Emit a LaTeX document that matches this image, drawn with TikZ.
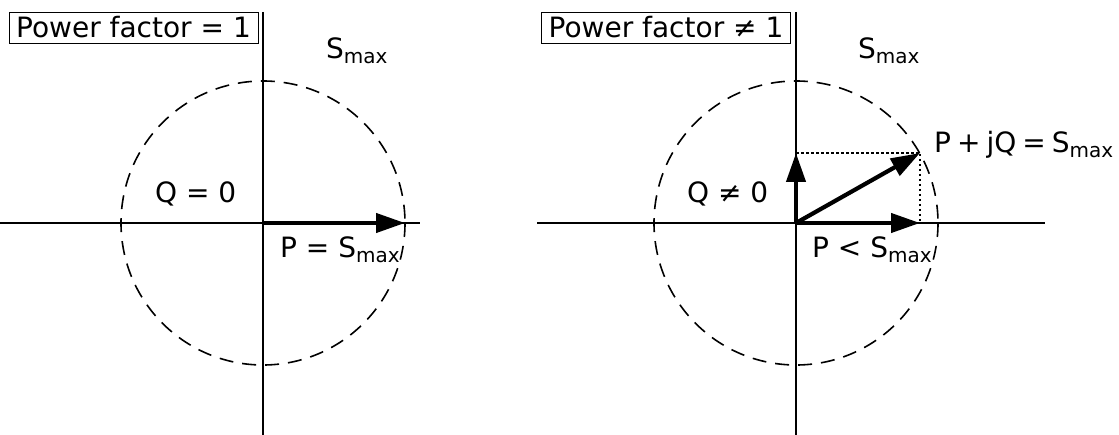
\documentclass[tikz,border=0pt]{standalone}
\usepackage{fontspec}
\setmainfont{DejaVu Sans}
\usetikzlibrary{arrows.meta}
\newcommand{\Smx}{S\raisebox{-5pt}{\fontsize{20}{22}\selectfont max}}
\begin{document}
\begin{tikzpicture}[x=1pt,y=-1pt,
  font=\fontsize{28}{32}\selectfont,
  axis/.style={line width=1.8pt},
  circ/.style={dash pattern=on 14pt off 9pt, line width=1.6pt},
  vec/.style={line width=4.2pt, -{Triangle[length=29pt,width=19pt]}},
  proj/.style={dash pattern=on 2.5pt off 2.5pt, line width=1.4pt},
  lbl/.style={inner sep=0pt, anchor=base west},
  pfbox/.style={draw, line width=0.9pt, minimum width=249pt, minimum height=31pt, inner sep=0pt}]
\useasboundingbox (0,0) rectangle (1119,435);

% ---------- left diagram ----------
\coordinate (O1) at (263,223);
\coordinate (L1t) at (263,12);
\coordinate (L1b) at (263,435);
\coordinate (L1l) at (0,223);
\coordinate (L1r) at (420,223);
\coordinate (P1) at (405,223);
\draw[axis] (L1t) -- (L1b);
\draw[axis] (L1l) -- (L1r);
\draw[circ] (O1) circle[radius=142];
\draw[vec] (O1) -- (P1);
\node[pfbox] (box1) at (133.5,27.5) {Power factor = 1};
\node[lbl] (s1) at (326,59) {\Smx};
\node[lbl] (q1) at (155,203) {Q = 0};
\node[lbl] (p1) at (280,258) {P = \Smx};

% ---------- right diagram ----------
\coordinate (O2) at (796,223);
\coordinate (L2t) at (796,12);
\coordinate (L2b) at (796,435);
\coordinate (L2l) at (537,223);
\coordinate (L2r) at (1045,223);
\coordinate (T) at (920,153);
\coordinate (Qt) at (796,153);
\coordinate (Pt) at (920,223);
\draw[axis] (L2t) -- (L2b);
\draw[axis] (L2l) -- (L2r);
\draw[circ] (O2) circle[radius=142];
\draw[proj] (Qt) -- (T) -- (Pt);
\draw[vec] (O2) -- (Qt);
\draw[vec] (O2) -- (Pt);
\draw[vec] (O2) -- (T);
\node[pfbox] (box2) at (666,27.5) {Power factor ≠ 1};
\node[lbl] (s2) at (858,59) {\Smx};
\node[lbl] (q2) at (687,203) {Q ≠ 0};
\node[lbl] (p2) at (812,258) {P < \Smx};
\node[lbl] (pq) at (934,153) {P\hspace{6pt}+\hspace{6pt}jQ\hspace{6pt}=\hspace{6pt}\Smx};
\end{tikzpicture}
\end{document}
